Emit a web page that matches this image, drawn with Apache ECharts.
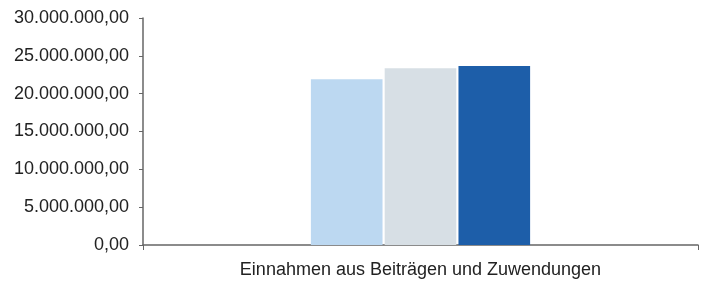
<!DOCTYPE html>
<html><head><meta charset="utf-8">
<script src="https://cdn.jsdelivr.net/npm/echarts@6/dist/echarts.min.js"></script>
<style>html,body{margin:0;padding:0;background:#fff}#c{width:703px;height:283px}</style>
</head><body><div id="c"></div>
<script>
const categories = ["Einnahmen aus Beiträgen und Zuwendungen"];
const series1 = [21900000];
const series2 = [23350000];
const series3 = [23650000];
const yTicks = { min: 0, max: 30000000, interval: 5000000 };
const colors = ["#bcd8f1", "#d7dfe5", "#1d5ea9"];

function fmt(v){
  const parts = Math.round(v).toString().replace(/\B(?=(\d{3})+(?!\d))/g, ".");
  return parts + ",00";
}
const chart = echarts.init(document.getElementById('c'));
const mk = (d, i) => ({ type: 'bar', data: d, barGap: '3%', barCategoryGap: '60.5%', itemStyle: { color: colors[i] } });
chart.setOption({
  animation: false,
  grid: { left: 143, right: 5, top: 18, bottom: 38, containLabel: false },
  xAxis: {
    type: 'category', data: categories,
    axisLine: { lineStyle: { color: '#666', width: 1.5 } },
    axisTick: { show: true, alignWithLabel: false, length: 5, lineStyle: { color: '#666' } },
    axisLabel: { color: '#222', fontSize: 18, fontFamily: 'Liberation Sans, Arial', margin: 16 }
  },
  yAxis: {
    type: 'value', min: yTicks.min, max: yTicks.max, interval: yTicks.interval,
    axisLine: { show: true, lineStyle: { color: '#666', width: 1.5 } },
    axisTick: { show: true, length: 4, lineStyle: { color: '#666' } },
    splitLine: { show: false },
    axisLabel: { color: '#222', fontSize: 18, fontFamily: 'Liberation Sans, Arial', margin: 14, formatter: fmt }
  },
  series: [mk(series1,0), mk(series2,1), mk(series3,2)]
});
</script></body></html>
